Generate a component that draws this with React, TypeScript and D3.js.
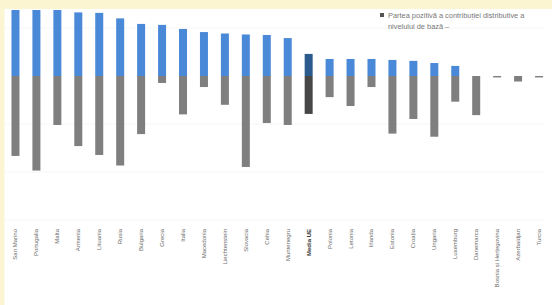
import React from "react";
import * as d3 from "d3";

const categories = [
  "San Marino", "Portugalia", "Malta", "Armenia", "Lituania", "Rusia",
  "Bulgaria", "Grecia", "Italia", "Macedonia", "Liechtenstein", "Slovacia",
  "Cehia", "Muntenegru", "Media UE", "Polonia", "Letonia", "Irlanda",
  "Estonia", "Croația", "Ungaria", "Luxemburg", "Danemarca",
  "Bosnia și Herțegovina", "Azerbaidjan", "Turcia",
];
const positiveValues = [
  27.5, 27.5, 27.5, 26.5, 26.3, 24, 21.7, 21.3, 19.6, 18.3, 17.7, 17.3,
  17.1, 15.8, 9.2, 7.1, 7.1, 7.1, 6.7, 6.3, 5.4, 4.2, 0, 0, 0, 0,
];
const negativeValues = [
  -33.3, -39.4, -20.4, -29.2, -32.9, -37.3, -24.2, -2.9, -16, -4.6, -12,
  -37.9, -19.6, -20.4, -15.8, -8.8, -12.5, -4.6, -24, -17.9, -25.3, -10.7,
  -16.3, -0.6, -2.3, -0.6,
];
const highlightCategory = "Media UE";
const gridValues = [-60, -40, -20, 20];
const legendLines = [
  "Partea pozitivă a contribuției distributive a",
  "nivelului de bază –",
];

const W = 552;
const H = 305;

export default function App() {
  const x = d3.scalePoint<string>().domain(categories).range([5, 549.5]).padding(0.5);
  const y = d3.scaleLinear().domain([-60, 28]).range([220, 8.8]);
  const bw = 8;
  return (
    <div style={{ position: "fixed", left: 0, top: 0 }}>
      <svg width={W} height={H} style={{ display: "block", fontFamily: "'Liberation Sans', Arial, sans-serif" }}>
        <rect x={0} y={0} width={W} height={H} fill="#ffffff" />
        <rect x={0} y={0} width={W} height={9} fill="#fbf5d2" />
        <rect x={0} y={0} width={4.5} height={H} fill="#fbf5d2" />
        {gridValues.map((g) => (
          <line key={g} x1={5} x2={545} y1={y(g)} y2={y(g)} stroke="#f6f6f6" strokeWidth={1} />
        ))}
        {categories.map((c, i) => {
          const cx = x(c)!;
          const hl = c === highlightCategory;
          const pos = positiveValues[i];
          const neg = negativeValues[i];
          return (
            <g key={c}>
              {pos > 0 && (
                <rect x={cx - bw / 2} y={Math.max(y(pos), 9)} width={bw}
                  height={y(0) - Math.max(y(pos), 9)} fill={hl ? "#2b5a8c" : "#4a88d8"} />
              )}
              {neg < 0 && (
                <rect x={cx - bw / 2} y={y(0)} width={bw} height={y(neg) - y(0)}
                  fill={hl ? "#474747" : "#7f7f7f"} />
              )}
              <text transform={`translate(${cx},229) rotate(-90)`} textAnchor="end"
                dominantBaseline="central" fontSize={6} fill={hl ? "#333" : "#6a6a6a"}
                fontWeight={hl ? "bold" : "normal"}>
                {c}
              </text>
            </g>
          );
        })}
        <rect x={380} y={13} width={4} height={4} fill="#555" />
        {legendLines.map((t, i) => (
          <text key={i} x={388} y={18 + i * 10.5} fontSize={7.4} fill="#777">{t}</text>
        ))}
      </svg>
    </div>
  );
}
